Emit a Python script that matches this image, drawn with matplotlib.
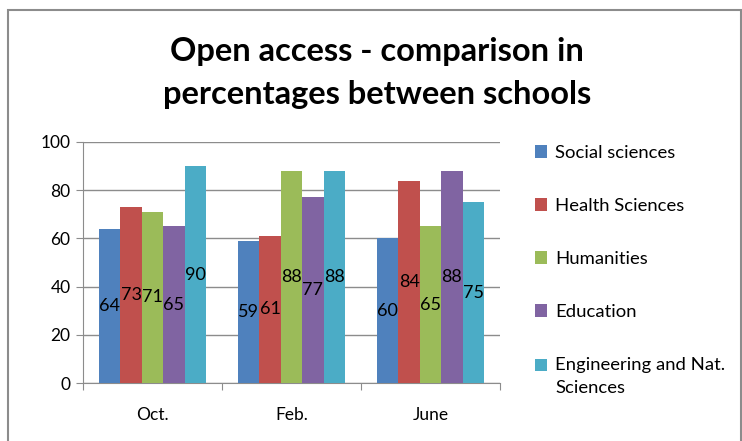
#!/usr/bin/env python3

import numpy as np
import matplotlib
matplotlib.use("Agg")
import matplotlib.pyplot as plt
from matplotlib.patches import Rectangle
from matplotlib.legend_handler import HandlerPatch

plt.rcParams['font.family'] = ['Lato', 'DejaVu Sans']

months = ['Oct.', 'Feb.', 'June']
schools = ['Social sciences', 'Health Sciences', 'Humanities', 'Education',
           'Engineering and Nat.\nSciences']
social = [64, 59, 60]
health = [73, 61, 84]
humanities = [71, 88, 65]
education = [65, 77, 88]
engineering = [90, 88, 75]
colors = ['#4F81BD', '#C0504D', '#9BBB59', '#8064A2', '#4BACC6']

series = [social, health, humanities, education, engineering]


class TopLineHandler(HandlerPatch):
    # put the legend square next to the first line of a two-line label
    def create_artists(self, legend, orig_handle, xdescent, ydescent,
                       width, height, fontsize, trans):
        r = Rectangle((-xdescent, -ydescent + 0.62 * fontsize), width, height,
                      facecolor=orig_handle.patches[0].get_facecolor(),
                      edgecolor='none', transform=trans)
        return [r]


fig = plt.figure(figsize=(7.42, 4.41), dpi=100)
# chart border, cut off at the bottom like the screenshot
fig.patches.append(Rectangle((8 / 742, -10 / 441), 733 / 742, 441 / 441,
                             transform=fig.transFigure, fill=False,
                             edgecolor='#8c8c8c', linewidth=1.5))

ax = fig.add_axes([83 / 742, 1 - 383 / 441, 417 / 742, 241 / 441])

x = np.arange(len(months))
w = 0.154
bars = []
for i, (vals, c) in enumerate(zip(series, colors)):
    pos = x + (i - 2) * w
    bars.append(ax.bar(pos, vals, width=w, color=c, label=schools[i], zorder=3))
    for p, v in zip(pos, vals):
        ax.text(p, v / 2, str(v), ha='center', va='center', fontsize=13,
                color='black', zorder=4)

ax.set_xlim(-0.5, 2.5)
ax.set_ylim(0, 100)
ax.set_yticks(range(0, 101, 20))
ax.yaxis.grid(True, color='#8c8c8c', linewidth=1)
ax.set_axisbelow(True)
ax.set_xticks([-0.5, 0.5, 1.5, 2.5])
ax.set_xticklabels([])
ax.set_xticks(x, minor=True)
ax.set_xticklabels(months, minor=True, fontsize=12.5)
ax.tick_params(axis='x', which='minor', length=0, pad=17)
ax.tick_params(axis='x', which='major', length=5, color='#8c8c8c', direction='out')
ax.tick_params(axis='y', length=5, color='#8c8c8c', labelsize=12.5, pad=4)
for s in ['top', 'right']:
    ax.spines[s].set_visible(False)
ax.spines['left'].set_color('#8c8c8c')
ax.spines['bottom'].set_color('#8c8c8c')

fig.text(377 / 742, 1 - 73 / 441, 'Open access - comparison in\npercentages between schools',
         ha='center', va='center', fontsize=23.5, fontweight='bold', linespacing=1.6)

leg = ax.legend(loc='upper left', bbox_to_anchor=((535 - 83) / 417, (383 - 145) / 241),
                frameon=False, fontsize=13.3, handlelength=0.65, handleheight=0.65,
                handletextpad=0.45, labelspacing=2.0, borderaxespad=0, borderpad=0,
                handler_map={bars[-1]: TopLineHandler()})
for t in leg.get_texts():
    t.set_linespacing(1.55)

fig.savefig('out.png', dpi=100)
